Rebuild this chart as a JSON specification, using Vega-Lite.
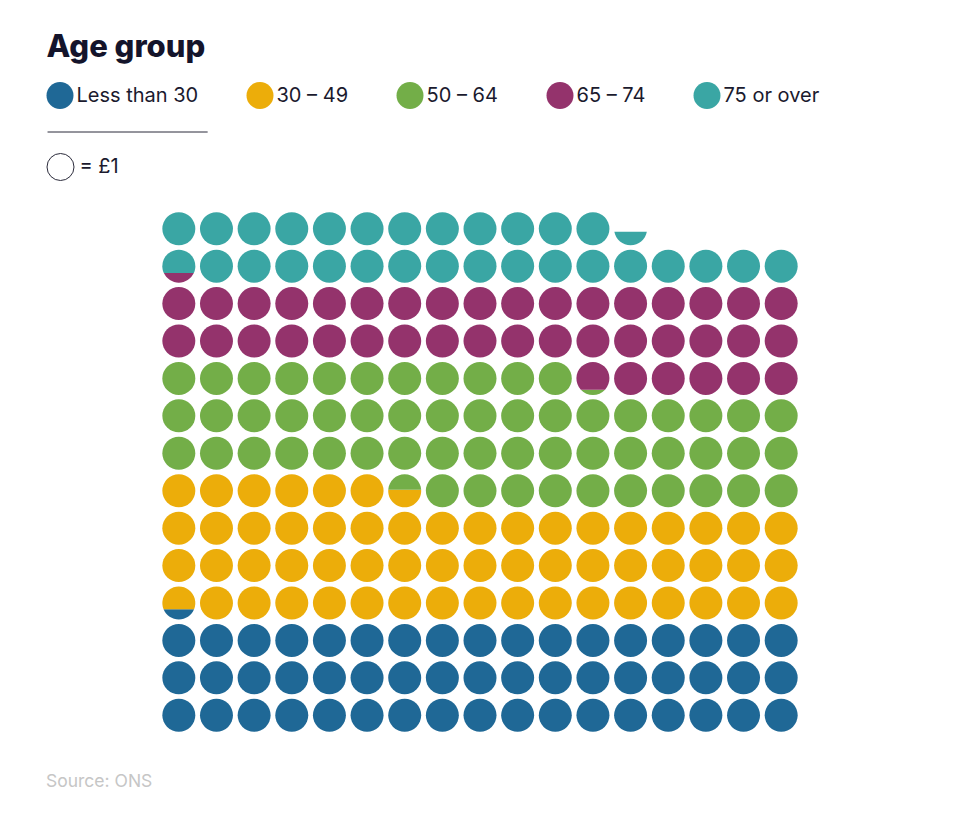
{
  "$schema": "https://vega.github.io/schema/vega-lite/v6.json",
  "width": 640,
  "height": 524,
  "autosize": {"type": "none"},
  "padding": {"left": 160, "top": 210, "right": 160, "bottom": 85},
  "background": "white",
  "config": {"view": {"stroke": null}, "font": "Inter"},
  "title": {"text": "Source: ONS", "orient": "bottom", "anchor": "start", "frame": "group", "dx": -114, "offset": 53, "baseline": "alphabetic", "fontSize": 17.5, "fontWeight": "normal", "color": "#c6c6c6", "font": "Inter"},
  "data": {"values": [
    {"c":1,"r":1,"g":"Less than 30","f":1},{"c":2,"r":1,"g":"Less than 30","f":1},{"c":3,"r":1,"g":"Less than 30","f":1},{"c":4,"r":1,"g":"Less than 30","f":1},{"c":5,"r":1,"g":"Less than 30","f":1},{"c":6,"r":1,"g":"Less than 30","f":1},{"c":7,"r":1,"g":"Less than 30","f":1},{"c":8,"r":1,"g":"Less than 30","f":1},{"c":9,"r":1,"g":"Less than 30","f":1},{"c":10,"r":1,"g":"Less than 30","f":1},{"c":11,"r":1,"g":"Less than 30","f":1},{"c":12,"r":1,"g":"Less than 30","f":1},{"c":13,"r":1,"g":"Less than 30","f":1},{"c":14,"r":1,"g":"Less than 30","f":1},{"c":15,"r":1,"g":"Less than 30","f":1},{"c":16,"r":1,"g":"Less than 30","f":1},{"c":17,"r":1,"g":"Less than 30","f":1},
    {"c":1,"r":2,"g":"Less than 30","f":1},{"c":2,"r":2,"g":"Less than 30","f":1},{"c":3,"r":2,"g":"Less than 30","f":1},{"c":4,"r":2,"g":"Less than 30","f":1},{"c":5,"r":2,"g":"Less than 30","f":1},{"c":6,"r":2,"g":"Less than 30","f":1},{"c":7,"r":2,"g":"Less than 30","f":1},{"c":8,"r":2,"g":"Less than 30","f":1},{"c":9,"r":2,"g":"Less than 30","f":1},{"c":10,"r":2,"g":"Less than 30","f":1},{"c":11,"r":2,"g":"Less than 30","f":1},{"c":12,"r":2,"g":"Less than 30","f":1},{"c":13,"r":2,"g":"Less than 30","f":1},{"c":14,"r":2,"g":"Less than 30","f":1},{"c":15,"r":2,"g":"Less than 30","f":1},{"c":16,"r":2,"g":"Less than 30","f":1},{"c":17,"r":2,"g":"Less than 30","f":1},
    {"c":1,"r":3,"g":"Less than 30","f":1},{"c":2,"r":3,"g":"Less than 30","f":1},{"c":3,"r":3,"g":"Less than 30","f":1},{"c":4,"r":3,"g":"Less than 30","f":1},{"c":5,"r":3,"g":"Less than 30","f":1},{"c":6,"r":3,"g":"Less than 30","f":1},{"c":7,"r":3,"g":"Less than 30","f":1},{"c":8,"r":3,"g":"Less than 30","f":1},{"c":9,"r":3,"g":"Less than 30","f":1},{"c":10,"r":3,"g":"Less than 30","f":1},{"c":11,"r":3,"g":"Less than 30","f":1},{"c":12,"r":3,"g":"Less than 30","f":1},{"c":13,"r":3,"g":"Less than 30","f":1},{"c":14,"r":3,"g":"Less than 30","f":1},{"c":15,"r":3,"g":"Less than 30","f":1},{"c":16,"r":3,"g":"Less than 30","f":1},{"c":17,"r":3,"g":"Less than 30","f":1},
    {"c":1,"r":4,"g":"Less than 30","f":0.31},{"c":1,"r":4,"g":"30 – 49","f":0.69},{"c":2,"r":4,"g":"30 – 49","f":1},{"c":3,"r":4,"g":"30 – 49","f":1},{"c":4,"r":4,"g":"30 – 49","f":1},{"c":5,"r":4,"g":"30 – 49","f":1},{"c":6,"r":4,"g":"30 – 49","f":1},{"c":7,"r":4,"g":"30 – 49","f":1},{"c":8,"r":4,"g":"30 – 49","f":1},{"c":9,"r":4,"g":"30 – 49","f":1},{"c":10,"r":4,"g":"30 – 49","f":1},{"c":11,"r":4,"g":"30 – 49","f":1},{"c":12,"r":4,"g":"30 – 49","f":1},{"c":13,"r":4,"g":"30 – 49","f":1},{"c":14,"r":4,"g":"30 – 49","f":1},{"c":15,"r":4,"g":"30 – 49","f":1},{"c":16,"r":4,"g":"30 – 49","f":1},{"c":17,"r":4,"g":"30 – 49","f":1},
    {"c":1,"r":5,"g":"30 – 49","f":1},{"c":2,"r":5,"g":"30 – 49","f":1},{"c":3,"r":5,"g":"30 – 49","f":1},{"c":4,"r":5,"g":"30 – 49","f":1},{"c":5,"r":5,"g":"30 – 49","f":1},{"c":6,"r":5,"g":"30 – 49","f":1},{"c":7,"r":5,"g":"30 – 49","f":1},{"c":8,"r":5,"g":"30 – 49","f":1},{"c":9,"r":5,"g":"30 – 49","f":1},{"c":10,"r":5,"g":"30 – 49","f":1},{"c":11,"r":5,"g":"30 – 49","f":1},{"c":12,"r":5,"g":"30 – 49","f":1},{"c":13,"r":5,"g":"30 – 49","f":1},{"c":14,"r":5,"g":"30 – 49","f":1},{"c":15,"r":5,"g":"30 – 49","f":1},{"c":16,"r":5,"g":"30 – 49","f":1},{"c":17,"r":5,"g":"30 – 49","f":1},
    {"c":1,"r":6,"g":"30 – 49","f":1},{"c":2,"r":6,"g":"30 – 49","f":1},{"c":3,"r":6,"g":"30 – 49","f":1},{"c":4,"r":6,"g":"30 – 49","f":1},{"c":5,"r":6,"g":"30 – 49","f":1},{"c":6,"r":6,"g":"30 – 49","f":1},{"c":7,"r":6,"g":"30 – 49","f":1},{"c":8,"r":6,"g":"30 – 49","f":1},{"c":9,"r":6,"g":"30 – 49","f":1},{"c":10,"r":6,"g":"30 – 49","f":1},{"c":11,"r":6,"g":"30 – 49","f":1},{"c":12,"r":6,"g":"30 – 49","f":1},{"c":13,"r":6,"g":"30 – 49","f":1},{"c":14,"r":6,"g":"30 – 49","f":1},{"c":15,"r":6,"g":"30 – 49","f":1},{"c":16,"r":6,"g":"30 – 49","f":1},{"c":17,"r":6,"g":"30 – 49","f":1},
    {"c":1,"r":7,"g":"30 – 49","f":1},{"c":2,"r":7,"g":"30 – 49","f":1},{"c":3,"r":7,"g":"30 – 49","f":1},{"c":4,"r":7,"g":"30 – 49","f":1},{"c":5,"r":7,"g":"30 – 49","f":1},{"c":6,"r":7,"g":"30 – 49","f":1},{"c":7,"r":7,"g":"30 – 49","f":0.53},{"c":7,"r":7,"g":"50 – 64","f":0.47},{"c":8,"r":7,"g":"50 – 64","f":1},{"c":9,"r":7,"g":"50 – 64","f":1},{"c":10,"r":7,"g":"50 – 64","f":1},{"c":11,"r":7,"g":"50 – 64","f":1},{"c":12,"r":7,"g":"50 – 64","f":1},{"c":13,"r":7,"g":"50 – 64","f":1},{"c":14,"r":7,"g":"50 – 64","f":1},{"c":15,"r":7,"g":"50 – 64","f":1},{"c":16,"r":7,"g":"50 – 64","f":1},{"c":17,"r":7,"g":"50 – 64","f":1},
    {"c":1,"r":8,"g":"50 – 64","f":1},{"c":2,"r":8,"g":"50 – 64","f":1},{"c":3,"r":8,"g":"50 – 64","f":1},{"c":4,"r":8,"g":"50 – 64","f":1},{"c":5,"r":8,"g":"50 – 64","f":1},{"c":6,"r":8,"g":"50 – 64","f":1},{"c":7,"r":8,"g":"50 – 64","f":1},{"c":8,"r":8,"g":"50 – 64","f":1},{"c":9,"r":8,"g":"50 – 64","f":1},{"c":10,"r":8,"g":"50 – 64","f":1},{"c":11,"r":8,"g":"50 – 64","f":1},{"c":12,"r":8,"g":"50 – 64","f":1},{"c":13,"r":8,"g":"50 – 64","f":1},{"c":14,"r":8,"g":"50 – 64","f":1},{"c":15,"r":8,"g":"50 – 64","f":1},{"c":16,"r":8,"g":"50 – 64","f":1},{"c":17,"r":8,"g":"50 – 64","f":1},
    {"c":1,"r":9,"g":"50 – 64","f":1},{"c":2,"r":9,"g":"50 – 64","f":1},{"c":3,"r":9,"g":"50 – 64","f":1},{"c":4,"r":9,"g":"50 – 64","f":1},{"c":5,"r":9,"g":"50 – 64","f":1},{"c":6,"r":9,"g":"50 – 64","f":1},{"c":7,"r":9,"g":"50 – 64","f":1},{"c":8,"r":9,"g":"50 – 64","f":1},{"c":9,"r":9,"g":"50 – 64","f":1},{"c":10,"r":9,"g":"50 – 64","f":1},{"c":11,"r":9,"g":"50 – 64","f":1},{"c":12,"r":9,"g":"50 – 64","f":1},{"c":13,"r":9,"g":"50 – 64","f":1},{"c":14,"r":9,"g":"50 – 64","f":1},{"c":15,"r":9,"g":"50 – 64","f":1},{"c":16,"r":9,"g":"50 – 64","f":1},{"c":17,"r":9,"g":"50 – 64","f":1},
    {"c":1,"r":10,"g":"50 – 64","f":1},{"c":2,"r":10,"g":"50 – 64","f":1},{"c":3,"r":10,"g":"50 – 64","f":1},{"c":4,"r":10,"g":"50 – 64","f":1},{"c":5,"r":10,"g":"50 – 64","f":1},{"c":6,"r":10,"g":"50 – 64","f":1},{"c":7,"r":10,"g":"50 – 64","f":1},{"c":8,"r":10,"g":"50 – 64","f":1},{"c":9,"r":10,"g":"50 – 64","f":1},{"c":10,"r":10,"g":"50 – 64","f":1},{"c":11,"r":10,"g":"50 – 64","f":1},{"c":12,"r":10,"g":"50 – 64","f":0.16},{"c":12,"r":10,"g":"65 – 74","f":0.84},{"c":13,"r":10,"g":"65 – 74","f":1},{"c":14,"r":10,"g":"65 – 74","f":1},{"c":15,"r":10,"g":"65 – 74","f":1},{"c":16,"r":10,"g":"65 – 74","f":1},{"c":17,"r":10,"g":"65 – 74","f":1},
    {"c":1,"r":11,"g":"65 – 74","f":1},{"c":2,"r":11,"g":"65 – 74","f":1},{"c":3,"r":11,"g":"65 – 74","f":1},{"c":4,"r":11,"g":"65 – 74","f":1},{"c":5,"r":11,"g":"65 – 74","f":1},{"c":6,"r":11,"g":"65 – 74","f":1},{"c":7,"r":11,"g":"65 – 74","f":1},{"c":8,"r":11,"g":"65 – 74","f":1},{"c":9,"r":11,"g":"65 – 74","f":1},{"c":10,"r":11,"g":"65 – 74","f":1},{"c":11,"r":11,"g":"65 – 74","f":1},{"c":12,"r":11,"g":"65 – 74","f":1},{"c":13,"r":11,"g":"65 – 74","f":1},{"c":14,"r":11,"g":"65 – 74","f":1},{"c":15,"r":11,"g":"65 – 74","f":1},{"c":16,"r":11,"g":"65 – 74","f":1},{"c":17,"r":11,"g":"65 – 74","f":1},
    {"c":1,"r":12,"g":"65 – 74","f":1},{"c":2,"r":12,"g":"65 – 74","f":1},{"c":3,"r":12,"g":"65 – 74","f":1},{"c":4,"r":12,"g":"65 – 74","f":1},{"c":5,"r":12,"g":"65 – 74","f":1},{"c":6,"r":12,"g":"65 – 74","f":1},{"c":7,"r":12,"g":"65 – 74","f":1},{"c":8,"r":12,"g":"65 – 74","f":1},{"c":9,"r":12,"g":"65 – 74","f":1},{"c":10,"r":12,"g":"65 – 74","f":1},{"c":11,"r":12,"g":"65 – 74","f":1},{"c":12,"r":12,"g":"65 – 74","f":1},{"c":13,"r":12,"g":"65 – 74","f":1},{"c":14,"r":12,"g":"65 – 74","f":1},{"c":15,"r":12,"g":"65 – 74","f":1},{"c":16,"r":12,"g":"65 – 74","f":1},{"c":17,"r":12,"g":"65 – 74","f":1},
    {"c":1,"r":13,"g":"65 – 74","f":0.29},{"c":1,"r":13,"g":"75 or over","f":0.71},{"c":2,"r":13,"g":"75 or over","f":1},{"c":3,"r":13,"g":"75 or over","f":1},{"c":4,"r":13,"g":"75 or over","f":1},{"c":5,"r":13,"g":"75 or over","f":1},{"c":6,"r":13,"g":"75 or over","f":1},{"c":7,"r":13,"g":"75 or over","f":1},{"c":8,"r":13,"g":"75 or over","f":1},{"c":9,"r":13,"g":"75 or over","f":1},{"c":10,"r":13,"g":"75 or over","f":1},{"c":11,"r":13,"g":"75 or over","f":1},{"c":12,"r":13,"g":"75 or over","f":1},{"c":13,"r":13,"g":"75 or over","f":1},{"c":14,"r":13,"g":"75 or over","f":1},{"c":15,"r":13,"g":"75 or over","f":1},{"c":16,"r":13,"g":"75 or over","f":1},{"c":17,"r":13,"g":"75 or over","f":1},
    {"c":1,"r":14,"g":"75 or over","f":1},{"c":2,"r":14,"g":"75 or over","f":1},{"c":3,"r":14,"g":"75 or over","f":1},{"c":4,"r":14,"g":"75 or over","f":1},{"c":5,"r":14,"g":"75 or over","f":1},{"c":6,"r":14,"g":"75 or over","f":1},{"c":7,"r":14,"g":"75 or over","f":1},{"c":8,"r":14,"g":"75 or over","f":1},{"c":9,"r":14,"g":"75 or over","f":1},{"c":10,"r":14,"g":"75 or over","f":1},{"c":11,"r":14,"g":"75 or over","f":1},{"c":12,"r":14,"g":"75 or over","f":1},{"c":13,"r":14,"g":"75 or over","f":0.41}
  ]},
  "layer": [
    {
      "mark": {"type": "point", "filled": true, "opacity": 1, "size": 1089, "strokeWidth": 0},
      "encoding": {
        "x": {"field": "c", "type": "quantitative", "scale": {"domain": [0.5, 17.5]}, "axis": null},
        "y": {"field": "r", "type": "quantitative", "scale": {"domain": [0.5, 14.5]}, "axis": null},
        "color": {
          "field": "g", "type": "nominal",
          "scale": {"domain": ["Less than 30", "30 – 49", "50 – 64", "65 – 74", "75 or over"], "range": ["#1f6896", "#ecad0a", "#73ae48", "#94336c", "#3aa6a4"]},
          "legend": {"title": "Age group", "orient": "none", "legendX": -113.5, "legendY": -177, "direction": "horizontal", "symbolType": "circle", "symbolSize": 729, "symbolStrokeWidth": 0, "symbolOpacity": 1, "labelFont": "Inter", "labelFontSize": 20, "labelColor": "#1b1a2e", "labelOffset": 3, "labelLimit": 300, "titleFont": "Inter", "titleFontSize": 31, "titleFontWeight": 800, "titleColor": "#14142b", "titlePadding": 18, "columnPadding": 48, "gridAlign": "none", "padding": 0}
        },
        "shape": {
          "field": "f", "type": "nominal",
          "scale": {
            "domain": [1, 0.31, 0.69, 0.53, 0.47, 0.16, 0.84, 0.29, 0.71, 0.41],
            "range": [
              "circle",
              "M -0.925 0.38 A 1 1 0 0 0 0.925 0.38 Z",
              "M -0.925 0.38 A 1 1 0 1 1 0.925 0.38 Z",
              "M -0.998 -0.06 A 1 1 0 1 0 0.998 -0.06 Z",
              "M -0.998 -0.06 A 1 1 0 0 1 0.998 -0.06 Z",
              "M -0.733 0.68 A 1 1 0 0 0 0.733 0.68 Z",
              "M -0.733 0.68 A 1 1 0 1 1 0.733 0.68 Z",
              "M -0.908 0.42 A 1 1 0 0 0 0.908 0.42 Z",
              "M -0.908 0.42 A 1 1 0 1 1 0.908 0.42 Z",
              "M -0.984 0.18 A 1 1 0 0 0 0.984 0.18 Z"
            ]
          },
          "legend": null
        }
      }
    },
    {
      "transform": [{"filter": "false"}],
      "mark": {"type": "point", "filled": false, "opacity": 1},
      "encoding": {
        "shape": {
          "field": "k", "type": "nominal",
          "scale": {"domain": [" ", "= £1"], "range": ["M -0.96 0 L 10.9 0", "circle"]},
          "legend": {"title": null, "orient": "none", "legendX": -113.5, "legendY": -92, "direction": "vertical", "symbolSize": 729, "symbolStrokeColor": "#2b2b3b", "symbolStrokeWidth": 1, "symbolFillColor": "white", "symbolOpacity": 1, "labelFont": "Inter", "labelFontSize": 20, "labelColor": "#1b1a2e", "labelOffset": 5, "rowPadding": 9, "padding": 0}
        }
      }
    }
  ],
  "resolve": {"scale": {"shape": "independent"}}
}
